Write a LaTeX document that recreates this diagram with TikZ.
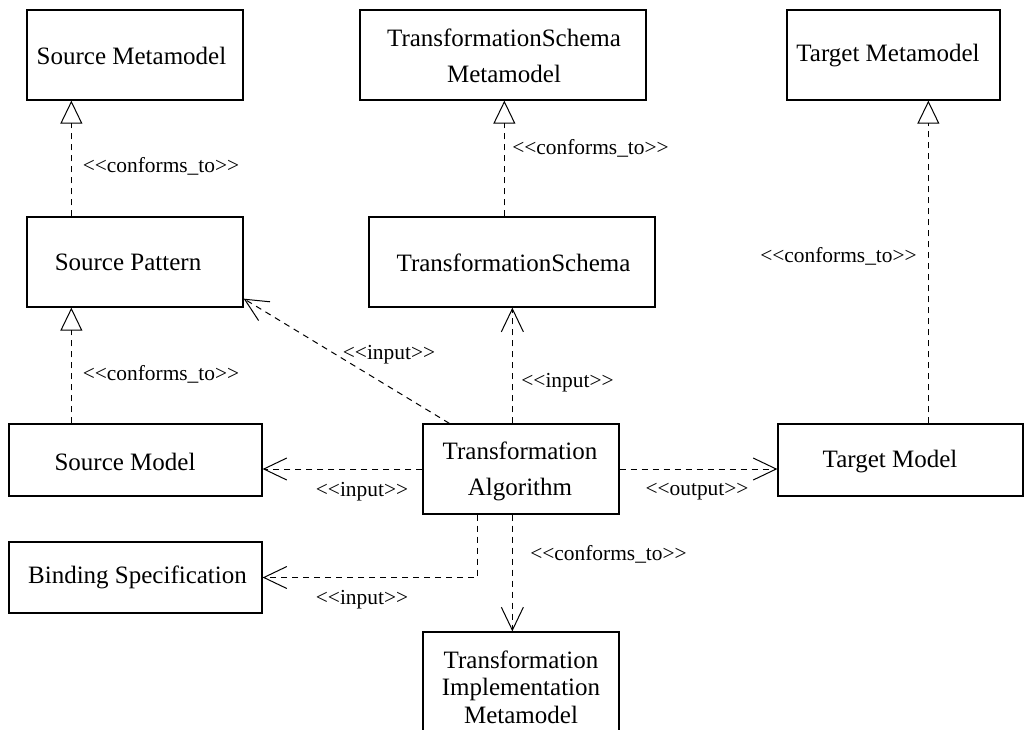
\documentclass[tikz,border=0pt]{standalone}
\usepackage{fontspec}
\setmainfont{Liberation Serif}
\usetikzlibrary{arrows.meta}
\newcommand{\stereo}[1]{{<}{<}#1{>}{>}}
\begin{document}
\begin{tikzpicture}[x=0.5pt,y=-0.5pt,
  box/.style={draw, line width=0.65pt, inner sep=0pt},
  boxtext/.style={inner sep=0pt, font=\fontsize{12.5pt}{18pt}\selectfont, align=center},
  tighttext/.style={boxtext, font=\fontsize{12.5pt}{13.8pt}\selectfont},
  deplabel/.style={inner sep=0pt, font=\fontsize{10.7pt}{13pt}\selectfont},
  dep/.style={line width=0.5pt, dash pattern=on 3pt off 2.5pt},
  conform/.style={dep, -{Triangle[open,length=11.5pt,width=11pt,line width=0.5pt]}},
  uses/.style={dep, -{Straight Barb[length=11.5pt,width=11pt,line width=0.5pt]}}]
\useasboundingbox (0,0) rectangle (1032,729);
\clip (0,0) rectangle (1032,729);

% boxes
\node[box, minimum width=108pt, minimum height=45pt] (sm) at (135,55) {};
\node[box, minimum width=108pt, minimum height=45pt] (sp) at (135,262) {};
\node[box, minimum width=143pt, minimum height=45pt] (tsm) at (503,55) {};
\node[box, minimum width=143pt, minimum height=45pt] (ts) at (512,262) {};
\node[box, minimum width=106.5pt, minimum height=45pt] (tm) at (893.5,55) {};
\node[box, minimum width=126.5pt, minimum height=36pt] (smod) at (135.5,460) {};
\node[box, minimum width=98pt, minimum height=45pt] (alg) at (521,469) {};
\node[box, minimum width=122.5pt, minimum height=36pt] (tmod) at (900.5,460) {};
\node[box, minimum width=126.5pt, minimum height=35.5pt] (bind) at (135.5,577.5) {};
\node[box, minimum width=98pt, minimum height=55pt] (tim) at (521,687) {};

% box captions
\node[boxtext] (sm-t) at (131.5,55.5) {Source Metamodel};
\node[boxtext] (sp-t) at (128,262.5) {Source Pattern};
\node[boxtext] (tsm-t) at (504,56) {TransformationSchema\\Metamodel};
\node[boxtext] (ts-t) at (513.5,263) {TransformationSchema};
\node[boxtext] (tm-t) at (888,56) {Target Metamodel};
\node[boxtext] (smod-t) at (125,461.5) {Source Model};
\node[boxtext] (alg-t) at (520,471) {Transformation\\Algorithm};
\node[boxtext] (tmod-t) at (890,462) {Target Model};
\node[boxtext] (bind-t) at (137.5,577) {Binding Specification};
\node[tighttext] (tim-t) at (521,687) {Transformation\\Implementation\\Metamodel};

% conformance relations
\draw[conform] ([xshift=22.5pt]sp.north west) -- ([xshift=22.5pt]sm.south west);
\draw[conform] ([xshift=31.5pt]smod.north west) -- ([xshift=22.5pt]sp.south west);
\draw[conform] ([xshift=68pt]ts.north west) -- ([xshift=72.5pt]tsm.south west);
\draw[conform] ([xshift=75.5pt]tmod.north west) -- ([xshift=71pt]tm.south west);

% dependencies of the algorithm
\draw[uses] ([xshift=45pt]alg.north west) -- ([xshift=72pt]ts.south west);
\draw[uses] ([xshift=13.5pt]alg.north west) -- ([yshift=4.5pt]sp.south east);
\draw[uses] (alg.west) -- (alg.west -| smod.east);
\draw[uses] (alg.east) -- (alg.east -| tmod.west);
\draw[uses] ([xshift=27.5pt]alg.south west) |- (bind.east);
\draw[uses] ([xshift=45pt]alg.south west) -- ([xshift=45pt]tim.north west);

% stereotype labels
\node[deplabel] (c1) at (161,166) {\stereo{conforms\_to}};
\node[deplabel] (c2) at (161,374) {\stereo{conforms\_to}};
\node[deplabel] (c3) at (590.5,148) {\stereo{conforms\_to}};
\node[deplabel] (c4) at (838.5,256) {\stereo{conforms\_to}};
\node[deplabel] (i1) at (567.5,383) {\stereo{input}};
\node[deplabel] (i2) at (389,355) {\stereo{input}};
\node[deplabel] (i3) at (362,492) {\stereo{input}};
\node[deplabel] (o1) at (697,492) {\stereo{output}};
\node[deplabel] (i4) at (362,600) {\stereo{input}};
\node[deplabel] (c5) at (608.5,554) {\stereo{conforms\_to}};
\end{tikzpicture}
\end{document}
